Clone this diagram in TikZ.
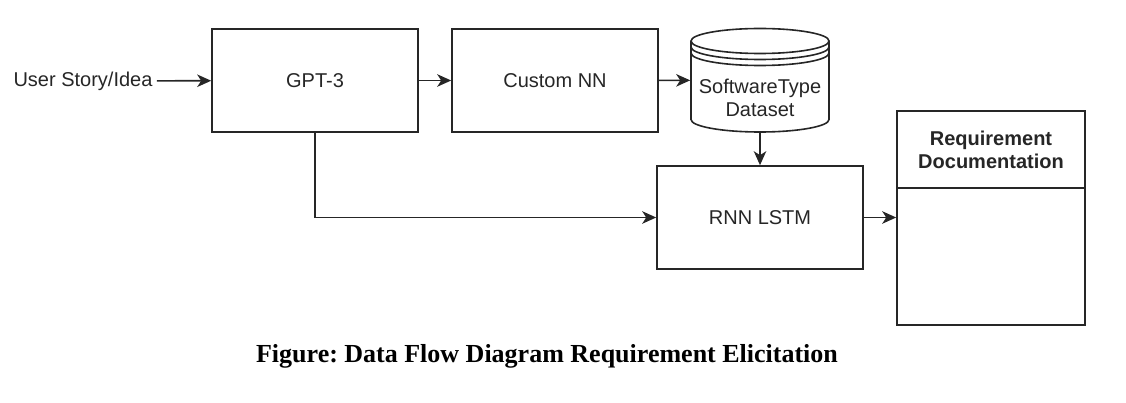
\documentclass[tikz,border=0pt]{standalone}
\usepackage{fontspec}
\setmainfont{Liberation Sans}
\newfontfamily\capfont{Liberation Serif}
\usetikzlibrary{arrows.meta}
\frenchspacing

\begin{document}
\begin{tikzpicture}[x=1pt, y=1pt, line width=1.6pt]
        \tikzstyle{every node}=[font=\fontsize{20}{23}\selectfont, text=black!85]
        \tikzstyle{box}=[draw=black!85, inner sep=0pt, minimum width=206pt, minimum height=103pt]
        \tikzstyle{arr}=[draw=black!85, -{Stealth[length=14pt, width=12.5pt, inset=4pt]}]
        \useasboundingbox (0,0) rectangle (1126,402);
        \node [inner sep=3.5pt] (idea) at (83,321) {User Story/Idea};
        \node [box] (gpt) at (315,321.5) {GPT-3};
        \node [box] (nn) at (555,321.5) {Custom NN};
        \node [inner sep=0pt, minimum width=138pt, minimum height=103.5pt] (data) at (760,321.75) {};
        \draw [black!85] (691,361) -- (691,282.5) arc [start angle=180, end angle=360, x radius=69pt, y radius=12.5pt] -- (829,361);
        \draw [black!85] (760,361) ellipse [x radius=69pt, y radius=12.5pt];
        \draw [black!85] (691,355) arc [start angle=180, end angle=360, x radius=69pt, y radius=12.5pt];
        \draw [black!85] (691,349) arc [start angle=180, end angle=360, x radius=69pt, y radius=12.5pt];
        \node [align=center, inner sep=0pt] at (760,304) {SoftwareType\\Dataset};
        \node [box] (rnn) at (760,184.5) {RNN LSTM};
        \node [box, minimum width=188pt, minimum height=214pt] (req) at (991,184) {};
        \draw [black!85] (req.west |- 0,214) -- (req.east |- 0,214);
        \node [align=center, font=\fontsize{20}{23}\selectfont\bfseries] at (991,252) {Requirement\\Documentation};
        \draw [arr] (idea) -- (gpt);
        \draw [arr] (gpt) -- (nn);
        \draw [arr] (nn) -- (data);
        \draw [arr] (data) -- (rnn);
        \draw [arr] (gpt.south) |- (rnn.west);
        \draw [arr] (rnn.east) -- (rnn.east -| req.west);
        \node [font=\capfont\bfseries\fontsize{26}{30}\selectfont, text=black] (caption) at (547,46) {Figure: Data Flow Diagram Requirement Elicitation};
    \end{tikzpicture}
\end{document}
